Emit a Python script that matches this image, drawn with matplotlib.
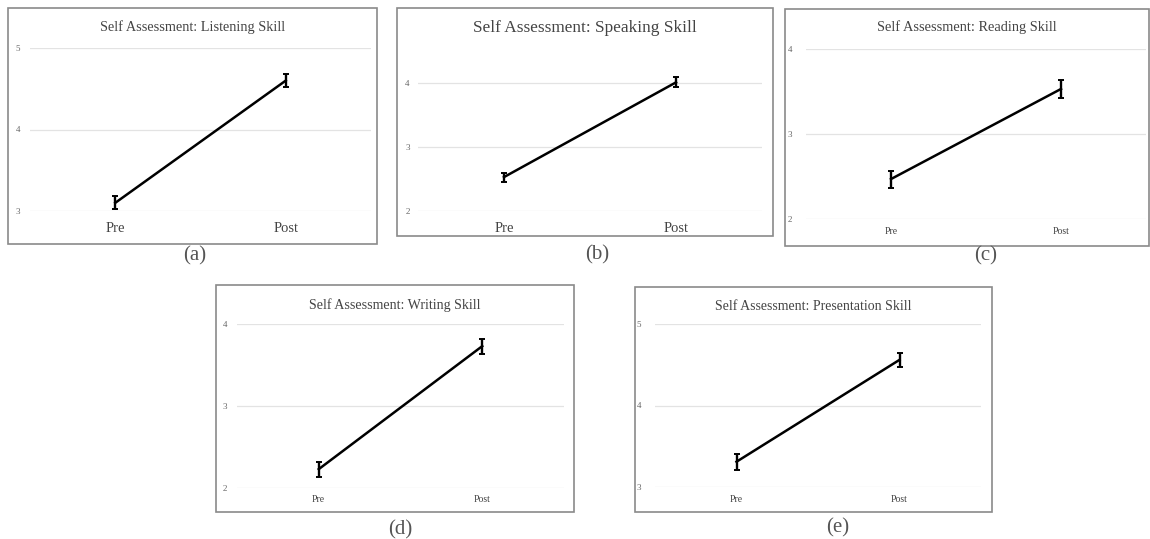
import matplotlib.pyplot as plt
from matplotlib.patches import Rectangle

W, H = 1150, 539

groups = ["Pre", "Post"]
titles = ["Self Assessment: Listening Skill",
          "Self Assessment: Speaking Skill",
          "Self Assessment: Reading Skill",
          "Self Assessment: Writing Skill",
          "Self Assessment: Presentation Skill"]
letters = ["(a)", "(b)", "(c)", "(d)", "(e)"]
means = [[3.10, 4.60],
         [2.53, 4.01],
         [2.47, 3.53],
         [2.23, 3.73],
         [3.31, 4.56]]
errors = [[0.08, 0.08],
          [0.07, 0.08],
          [0.10, 0.11],
          [0.09, 0.09],
          [0.10, 0.09]]
yticks = [[3, 4, 5], [2, 3, 4], [2, 3, 4], [2, 3, 4], [3, 4, 5]]

# layout in pixels: axes x0, x1, y top, y bottom, ylim; frame box; letter pos
axes_px = [(30, 371, 48, 211, (3, 5)),
           (418, 762, 51, 211, (2, 4.5)),
           (806, 1146, 49, 219, (2, 4)),
           (237, 564, 324, 488, (2, 4)),
           (655, 981, 324, 487, (3, 5))]
box_px = [(8, 8, 377, 244), (397, 8, 773, 236), (785, 9, 1149, 246),
          (216, 285, 574, 512), (635, 287, 992, 512)]
letter_px = [(195, 256), (597, 255), (986, 256), (400, 530), (838, 528)]
title_px = [27, 28, 27, 305, 306]
title_fs = [10.3, 12.4, 10.4, 10.1, 10.0]
cat_fs = [10.5, 10.5, 7, 7, 7]
cat_px = [228, 229, 232, 500, 500]
tick_pad = [7, 6, 10, 7, 10]

plt.rcParams['font.family'] = ['Liberation Serif', 'DejaVu Serif']
fig = plt.figure(figsize=(W / 100, H / 100), dpi=100)

for i in range(5):
    bx0, by0, bx1, by1 = box_px[i]
    fig.patches.append(Rectangle((bx0 / W, 1 - by1 / H), (bx1 - bx0) / W, (by1 - by0) / H,
                                 transform=fig.transFigure, facecolor='white',
                                 edgecolor='#8a8a8a', linewidth=1.2, zorder=-5))
    x0, x1, yt, yb, lim = axes_px[i]
    ax = fig.add_axes([x0 / W, 1 - yb / H, (x1 - x0) / W, (yb - yt) / H])
    ax.set_facecolor('none')
    ax.errorbar([0.5, 1.5], means[i], yerr=errors[i], color='black', linewidth=1.8,
                elinewidth=1.7, capsize=2.5, capthick=1.4)
    ax.set_xlim(0, 2)
    ax.set_ylim(*lim)
    ax.set_yticks(yticks[i])
    ax.set_yticklabels([str(t) for t in yticks[i]], fontsize=6.5, color='#666666')
    ax.grid(axis='y', color='#e3e3e3', linewidth=0.9)
    ax.set_axisbelow(True)
    ax.set_xticks([])
    for s in ax.spines.values():
        s.set_visible(False)
    ax.tick_params(axis='y', length=0, pad=tick_pad[i])
    for k, g in enumerate(groups):
        fig.text((x0 + (0.5 + k) / 2 * (x1 - x0)) / W, 1 - cat_px[i] / H, g,
                 fontsize=cat_fs[i], color='#444444', ha='center', va='center')
    fig.text((bx0 + bx1) / 2 / W, 1 - title_px[i] / H, titles[i], fontsize=title_fs[i],
             color='#444444', ha='center', va='center')
    fig.text(letter_px[i][0] / W, 1 - letter_px[i][1] / H, letters[i], fontsize=15,
             color='#555555', ha='center', va='center')

fig.savefig('out.png', dpi=100)
